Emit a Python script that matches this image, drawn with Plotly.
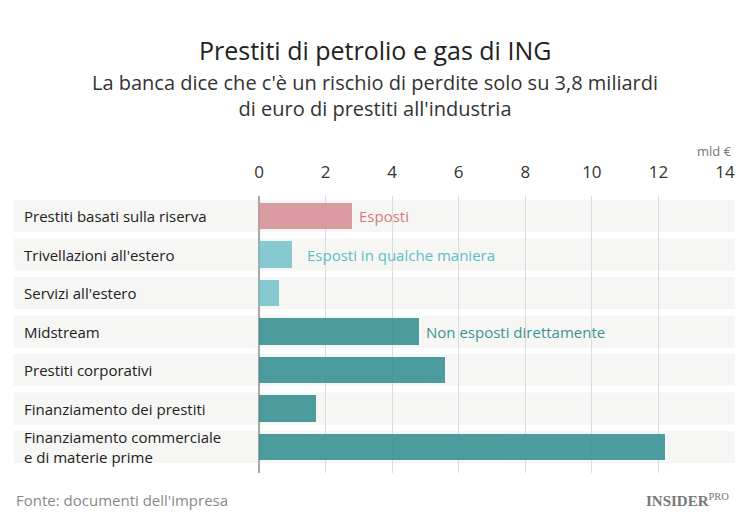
import plotly.graph_objects as go

categories = [
    "Prestiti basati sulla riserva",
    "Trivellazioni all'estero",
    "Servizi all'estero",
    "Midstream",
    "Prestiti corporativi",
    "Finanziamento dei prestiti",
    "Finanziamento commerciale<br>e di materie prime",
]
values = [2.8, 1.0, 0.6, 4.8, 5.6, 1.7, 12.2]
groups = ["esp", "qual", "qual", "non", "non", "non", "non"]
group_colors = {"esp": "#d68d92", "qual": "#74c2cc", "non": "#2f8c8f"}
group_text_colors = {"esp": "#d27a81", "qual": "#5bbec9", "non": "#3a9396"}
group_labels = [(0, "Esposti"), (1, "Esposti in qualche maniera"), (3, "Non esposti direttamente")]
tick_vals = [0, 2, 4, 6, 8, 10, 12, 14]

FONT = "Open Sans"
# the page body adds an 8px offset, so the figure is 8px smaller on each axis
W, H = 742, 515
L, T, R, B = 251, 188, 25, 50
PW = W - L - R
title_x = (375 - 8 - L) / PW

fig = go.Figure()
fig.add_trace(go.Bar(
    y=list(range(len(categories))), x=values, orientation="h",
    marker=dict(color=[group_colors[g] for g in groups], line=dict(width=0)),
    opacity=0.85, width=0.68, hoverinfo="skip",
))

shapes = []
for i in range(len(categories)):
    shapes.append(dict(type="rect", xref="paper", yref="y", x0=-0.526, x1=1.021,
                       y0=i - 0.415, y1=i + 0.415, fillcolor="#f6f6f4",
                       line=dict(width=0), layer="below"))

annotations = []
for i, c in enumerate(categories):
    annotations.append(dict(xref="paper", yref="y", x=-0.508, y=i, text=c,
                            showarrow=False, xanchor="left", yanchor="middle", align="left",
                            font=dict(family=FONT, size=15, color="#222")))
for idx, txt in group_labels:
    shift = 13 if idx == 1 else 5
    annotations.append(dict(xref="x", yref="y", x=values[idx], y=idx, text=txt,
                            showarrow=False, xanchor="left", yanchor="middle", xshift=shift,
                            font=dict(family=FONT, size=15, color=group_text_colors[groups[idx]])))
annotations += [
    dict(xref="paper", yref="paper", x=1.02, y=1.0, yshift=34, text="mld €", showarrow=False,
         xanchor="right", yanchor="bottom", font=dict(family=FONT, size=13, color="#777")),
    dict(xref="paper", yref="paper", x=title_x, y=1, yshift=146, xanchor="center", yanchor="middle",
         text="Prestiti di petrolio e gas di ING",
         showarrow=False, font=dict(family=FONT, size=25, color="#222")),
    dict(xref="paper", yref="paper", x=title_x, y=1, yshift=101, xanchor="center", yanchor="middle",
         text="La banca dice che c'è un rischio di perdite solo su 3,8 miliardi<br>di euro di prestiti all'industria",
         showarrow=False, font=dict(family=FONT, size=20, color="#333")),
    dict(xref="paper", yref="paper", x=-0.525, y=0, text="Fonte: documenti dell'impresa",
         showarrow=False, xanchor="left", yanchor="middle", yshift=-27,
         font=dict(family=FONT, size=15, color="#888")),
    dict(xref="paper", yref="paper", x=1.012, y=0, text="<b>INSIDER</b><sup>PRO</sup>",
         showarrow=False, xanchor="right", yanchor="middle", yshift=-27,
         font=dict(family="Liberation Serif", size=15, color="#777")),
]

fig.update_layout(
    width=W, height=H,
    margin=dict(l=L, r=R, t=T, b=B),
    paper_bgcolor="white", plot_bgcolor="rgba(0,0,0,0)",
    showlegend=False, bargap=0,
    shapes=shapes, annotations=annotations,
    font=dict(family=FONT),
)
fig.update_xaxes(
    side="top", range=[0, 14], tickvals=tick_vals, showgrid=True, gridcolor="#dcdcdc",
    gridwidth=1, zeroline=True, zerolinecolor="#a8a8a8", zerolinewidth=1.5,
    ticks="outside", ticklen=10, tickcolor="rgba(0,0,0,0)",
    tickfont=dict(family=FONT, size=17, color="#333"), showline=False, fixedrange=True,
    automargin=False,
)
fig.update_yaxes(
    range=[6.675, -0.52], showticklabels=False, showgrid=False, zeroline=False, fixedrange=True,
)
fig.write_html("out.html")
